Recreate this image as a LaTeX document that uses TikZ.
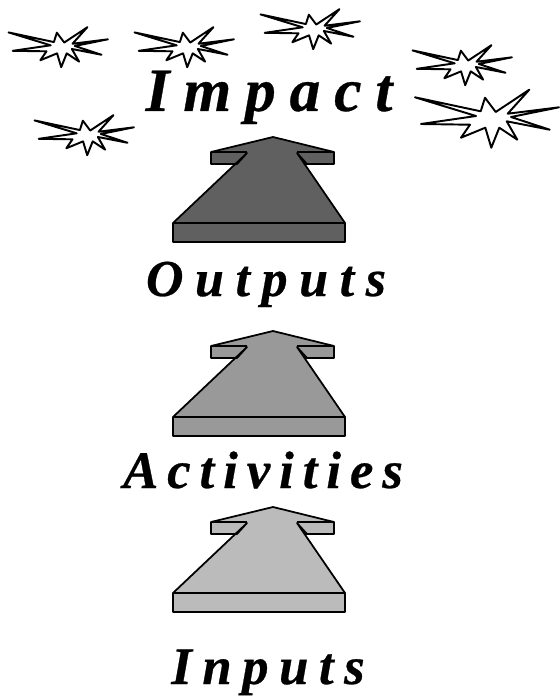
\documentclass[tikz,border=0pt]{standalone}
\usepackage{fontspec}
\setmainfont{Liberation Serif}
\definecolor{shadedark}{RGB}{96, 96, 96}
\definecolor{shademid}{RGB}{153, 153, 153}
\definecolor{shadelight}{RGB}{187, 187, 187}
\usetikzlibrary{positioning}
\tikzset{
  word/.style={anchor=base, inner sep=0pt, font=\bfseries\itshape},
  burst/.pic={
    \draw[line width=1.1pt, fill=white, line join=round] (-76,-19.7) -- (-10.3,-5.7) -- (-6,-19.3) -- (4.7,-5) -- (38.3,-27.3) -- (16.7,-3.3) -- (68,-9.7) -- (20,0) -- (58.7,12.7) -- (15.7,4.3) -- (26.3,22.7) -- (8.3,10.7) -- (0.3,30.7) -- (-5.7,10.7) -- (-30,20.7) -- (-21,7.7) -- (-70,7) -- (-15,-1) -- cycle;
  },
  upshift/.pic={
    \draw[line width=1pt, fill=#1, line join=round] (0,0) -- (61,15) -- (61,27) -- (34,27) -- (24,16) -- (72,86) -- (72,105) -- (-100,105) -- (-100,86) -- (-26,16) -- (-36,27) -- (-62,27) -- (-62,15) -- cycle;
    \draw[line width=1pt] (-62,15) -- (-26,15) (24,15) -- (61,15) (-100,86) -- (72,86);
  }
}
\begin{document}
\begin{tikzpicture}[x=0.02cm, y=-0.02cm]
  \useasboundingbox (0,0) rectangle (559,696);

  % Bursts
  \pic[scale=0.69] at (61,46) {burst};
  \pic[scale=0.69] at (187,46) {burst};
  \pic[scale=0.69] at (313,28) {burst};
  \pic[scale=0.69] at (87,134) {burst};
  \pic[scale=0.69] at (465,64) {burst};
  \pic at (491,117) {burst};

  % Arrows
  \pic at (273,137) {upshift=shadedark};
  \pic at (273,331) {upshift=shademid};
  \pic at (273,507) {upshift=shadelight};

  % Words
  \node[word, font=\bfseries\itshape\fontsize{35}{35}\selectfont\addfontfeature{LetterSpace=22.5,FakeBold=0.5}] (impact) at (269,111) {Impact};
  \node[word, font=\bfseries\itshape\fontsize{29.5}{29.5}\selectfont\addfontfeature{LetterSpace=22.5,FakeBold=0.5}] (outputs) at (266,296) {Outputs};
  \node[word, font=\bfseries\itshape\fontsize{30}{30}\selectfont\addfontfeature{LetterSpace=17,FakeBold=0.5}] (activities) at (263,488) {Activities};
  \node[word, font=\bfseries\itshape\fontsize{30}{30}\selectfont\addfontfeature{LetterSpace=20,FakeBold=0.5}] (inputs) at (268,684) {Inputs};
\end{tikzpicture}
\end{document}
